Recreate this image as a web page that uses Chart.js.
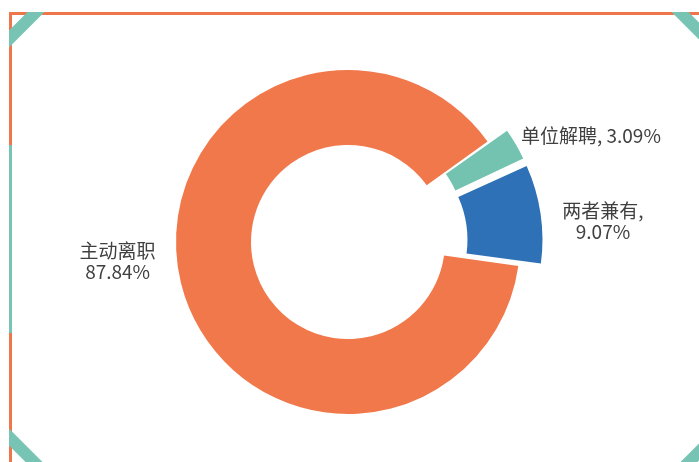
<!DOCTYPE html>
<html>
<head>
<meta charset="utf-8">
<script src="https://cdn.jsdelivr.net/npm/chart.js@4"></script>
<style>
	html, body { margin: 0; padding: 0; background: #fff; }
	#wrap { width: 699px; height: 462px; }
</style>
</head>
<body>
<div id="wrap"><canvas id="leaveChart" width="699" height="462"></canvas></div>
<script>
	'use strict';

	// Data
	const categories = ['主动离职', '单位解聘', '两者兼有'];
	const shares = [87.84, 3.09, 9.07];
	const colors = ['#F1784B', '#74C3B0', '#2E71B6'];

	// label layout: how each label text is split into lines
	const labelSeparators = ['\n', ', ', ',\n'];
	const labelNudge = [[-44, -27], [77, -10], [65, 7]];

	const ORANGE = '#EF764A';
	const TEAL = '#78C4B4';

	/**
	 * Decorative frame around the chart
	 */
	const framePlugin = {
		id: 'frame',
		beforeDraw: function(chart) {
			const ctx = chart.ctx;
			const w = chart.width, h = chart.height;
			ctx.save();

			// orange top + left border
			ctx.fillStyle = ORANGE;
			ctx.fillRect(9, 12, w - 9, 3);
			ctx.fillRect(9, 12, 3, h - 12);

			// teal part of the left border
			ctx.fillStyle = TEAL;
			ctx.fillRect(9, 145, 3, 188);

			// teal corner stripes
			ctx.beginPath();
			ctx.rect(9, 12, w - 9, h - 12);
			ctx.clip();
			ctx.strokeStyle = TEAL;
			ctx.lineWidth = 12;
			ctx.lineCap = 'butt';
			const stripes = [
				[0, 48, 42, 6],
				[673, 5, 709, 41],
				[0, 428, 42, 470],
				[680, 471, 709, 442]
			];
			stripes.forEach(function(s) {
				ctx.beginPath();
				ctx.moveTo(s[0], s[1]);
				ctx.lineTo(s[2], s[3]);
				ctx.stroke();
			});
			ctx.restore();
		}
	};

	/**
	 * Data labels next to the slices
	 */
	const labelPlugin = {
		id: 'sliceLabels',
		afterDatasetsDraw: function(chart) {
			const ctx = chart.ctx;
			const meta = chart.getDatasetMeta(0);
			ctx.save();
			ctx.font = '19px "Noto Sans CJK SC", "Noto Sans", sans-serif';
			ctx.fillStyle = '#404040';
			ctx.textAlign = 'center';
			ctx.textBaseline = 'middle';
			meta.data.forEach(function(arc, i) {
				const p = arc.getProps(['x', 'y', 'startAngle', 'endAngle', 'outerRadius']);
				const mid = (p.startAngle + p.endAngle) / 2;
				const r = p.outerRadius + 20;
				const cx = p.x + Math.cos(mid) * r + labelNudge[i][0];
				const cy = p.y + Math.sin(mid) * r + labelNudge[i][1];
				const text = categories[i] + labelSeparators[i] + shares[i].toFixed(2) + '%';
				const lines = text.split('\n');
				const lh = 21;
				lines.forEach(function(line, k) {
					ctx.fillText(line, cx, cy + (k - (lines.length - 1) / 2) * lh);
				});
			});
			ctx.restore();
		}
	};

	const ctx = document.getElementById('leaveChart');
	new Chart(ctx, {
		type: 'doughnut',
		data: {
			labels: categories,
			datasets: [{
				data: shares,
				backgroundColor: colors,
				borderWidth: 0,
				offset: [0, 49, 62],
				hoverOffset: 0
			}]
		},
		options: {
			responsive: false,
			animation: false,
			rotation: 98,
			radius: 172,
			cutout: '56.4%',
			layout: {
				padding: { left: 100, right: 103, top: 30, bottom: 8 }
			},
			plugins: {
				legend: { display: false },
				tooltip: { enabled: false }
			}
		},
		plugins: [framePlugin, labelPlugin]
	});
</script>
</body>
</html>
